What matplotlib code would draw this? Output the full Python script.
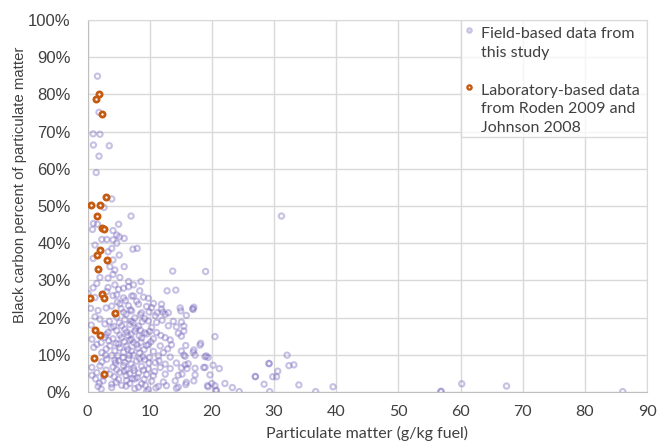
import matplotlib
matplotlib.use("Agg")
import matplotlib.pyplot as plt
from matplotlib.patches import Rectangle

# Field-based data (particulate matter g/kg fuel, black carbon %)
field_pm = [
    1.6, 1.85, 0.9, 2.0, 0.95, 3.5, 1.85, 1.4, 3.9, 31.2,
    2.65, 7.0, 0.95, 1.6, 5.0, 0.8, 4.1, 4.7, 2.3, 3.1, 4.1, 5.1, 5.9, 4.7, 1.2,
    3.9, 7.3, 8.0, 3.3, 5.1, 0.9, 4.1, 5.9, 3.6, 4.4, 13.7, 4.1, 2.0, 5.2, 3.3,
    6.6, 8.6, 1.5, 4.4, 7.4, 0.9, 5.8, 8.4, 12.8, 14.2, 0.1, 3.1, 7.1, 4.7, 9.8, 19.0,
    3.3, 5.0, 6.6,
    1.2, 4.1, 5.8, 7.4, 9.0,
    3.9, 5.2, 6.6, 8.2, 9.5,
    1.7, 5.8, 7.1, 8.7,
    2.0, 4.7, 6.0, 7.6, 9.2,
    2.8, 5.5, 6.8, 8.2,
    3.3, 4.7, 6.3, 7.6, 9.2,
    0.7, 2.8, 4.1, 5.5, 7.1, 8.7,
    1.5, 3.6, 5.0, 6.3, 7.9, 9.5,
    2.3, 4.4, 5.8, 7.1, 8.4,
    3.1, 5.0, 6.6, 7.9, 9.2,
    0.7, 2.0, 4.1, 5.8, 7.4, 8.7,
    1.5, 3.6, 5.2, 6.8, 8.2, 9.5,
    2.5, 5.0, 6.3, 7.6,
    3.9, 5.5, 8.7,
    5.4, 6.2, 7.0, 7.8, 6.5, 5.9, 7.4, 8.1, 6.7, 4.9, 8.9, 6.1, 7.9, 4.4, 3.8,
    3.4, 4.5, 6.3, 8.0, 2.9,
    0.5, 1.2, 0.6, 1.0, 0.7, 1.3, 2.2,
    10.6, 11.9, 12.1, 13.0,
    10.3, 11.9, 14.9, 17.0, 10.9, 12.5, 9.8, 11.1, 13.8, 15.1, 10.3, 13.0, 14.3,
    9.5, 11.1, 14.6, 10.6, 12.5, 9.8, 11.7, 13.5, 18.1, 10.6, 12.2, 15.1, 17.0,
    10.0, 11.4, 13.3, 15.7, 18.9, 19.4, 10.9, 12.5, 14.3, 16.2,
    9.8, 11.7, 13.3, 15.1, 17.3, 10.6, 12.5, 14.6, 10.3, 12.2, 14.1, 15.9,
    11.4, 14.6, 19.4, 9.5,
    16.9, 17.1, 15.9, 15.0, 15.5, 15.5, 15.1, 20.5, 18.2, 15.8, 17.1, 17.3, 15.5,
    19.1, 15.7, 18.7, 18.9, 20.2, 21.2, 16.0, 17.3, 19.7, 15.2, 15.8, 17.1, 19.3,
    20.0, 20.5, 20.7, 22.1, 23.3, 24.4, 27.0, 27.0, 28.4, 29.2, 29.2, 29.8, 30.4,
    30.6, 29.3, 32.1, 32.4, 33.2, 34.0, 36.7, 39.5,
    56.8, 56.9, 60.2, 67.4, 86.1,
    1.7, 3.9, 6.2, 7.6, 9.3, 11.0, 12.7, 14.3, 9.8, 20.7,
    3.0, 4.8, 6.9, 8.5, 9.9, 3.5, 5.1, 7.3, 8.8, 4.2, 6.0, 8.5, 10.0, 3.0,
    5.2, 7.0, 8.3, 2.2, 4.6, 6.8, 8.6, 10.2, 3.0, 5.2, 6.5, 9.1, 3.9, 5.7,
    7.4, 8.4, 2.3, 4.4, 6.0, 7.0, 9.9, 3.0, 4.7, 5.9, 7.5, 9.0, 2.6, 4.3,
    6.2, 7.2, 9.1, 1.9, 4.6, 6.8, 8.2, 10.8, 11.5, 12.9, 11.8, 13.3, 12.0, 11.2,
]
field_bc = [
    84.9, 75.2, 69.4, 69.3, 66.4, 66.2, 63.4, 59.0, 51.9, 47.3,
    49.6, 47.3, 45.3, 45.1, 45.1, 43.7, 43.4, 42.2, 41.0, 41.0, 40.9, 41.7, 41.3, 40.0, 39.5,
    38.6, 38.4, 38.6, 37.7, 36.8, 35.9, 35.5, 33.7, 33.7, 32.8, 32.5, 31.6, 30.8, 30.8, 30.6,
    29.7, 29.7, 29.2, 28.8, 28.8, 28.0, 27.9, 27.2, 27.2, 27.4, 26.5, 27.0, 25.8, 26.1, 25.2, 32.4,
    28.1, 27.6, 28.3,
    25.4, 25.9, 25.3, 25.8, 25.5,
    23.1, 23.7, 23.2, 23.6, 23.0,
    21.9, 21.4, 21.8, 21.3,
    19.6, 20.1, 19.5, 19.9, 19.7,
    18.3, 17.8, 18.2, 17.7,
    16.0, 16.5, 16.1, 16.4, 15.9,
    14.2, 14.7, 14.3, 14.6, 14.1, 14.5,
    12.8, 12.4, 12.9, 12.3, 12.7, 12.5,
    10.6, 11.1, 10.7, 11.0, 10.5,
    8.8, 8.4, 8.9, 8.3, 8.7,
    6.6, 7.0, 6.7, 7.1, 6.5, 6.9,
    5.2, 4.8, 5.3, 4.9, 5.1, 4.7,
    3.0, 3.4, 3.1, 3.5,
    2.1, 1.8, 2.2,
    22.4, 20.9, 19.0, 17.1, 15.2, 13.5, 13.3, 11.8, 9.8, 9.7, 9.5, 24.6, 24.4, 21.0, 17.3,
    13.8, 7.8, 6.1, 3.9, 9.9,
    22.5, 20.2, 18.0, 12.0, 4.5, 3.5, 0.8,
    23.8, 23.6, 21.5, 21.3,
    22.7, 22.3, 22.6, 22.2, 20.5, 20.9, 19.1, 18.7, 19.0, 18.8, 17.4, 17.8, 17.5,
    15.6, 16.0, 15.8, 14.3, 14.6, 12.8, 12.4, 12.7, 12.6, 10.9, 10.6, 11.0, 10.7,
    9.3, 9.7, 9.4, 9.6, 9.5, 9.3, 7.9, 7.5, 7.8, 7.6,
    6.2, 6.6, 6.3, 6.5, 6.4, 4.4, 4.8, 4.5, 2.9, 2.7, 3.0, 2.6,
    1.5, 1.3, 1.4, 0.1,
    22.4, 22.8, 20.6, 21.8, 17.7, 16.4, 15.0, 14.9, 13.1, 12.5, 11.3, 9.9, 9.9,
    9.7, 7.3, 6.6, 6.6, 7.2, 6.3, 6.3, 4.6, 4.6, 4.8, 2.0, 3.0, 1.7,
    2.3, 1.7, 0.5, 2.3, 1.2, 0.1, 4.1, 4.2, 2.1, 7.7, 7.6, 4.1, 4.1,
    5.6, 0.1, 9.9, 7.1, 7.3, 1.9, 0.1, 1.4,
    0.1, 0.2, 2.2, 1.6, 0.1,
    1.5, 1.2, 1.6, 0.9, 1.8, 1.1, 1.7, 1.0, 0.6, 0.3,
    22.6, 24.2, 22.1, 20.8, 21.5, 19.0, 18.6, 18.7, 18.9, 17.6, 16.9, 16.6, 16.3, 15.4,
    15.3, 15.6, 15.1, 13.3, 13.1, 13.9, 13.4, 13.5, 11.6, 11.9, 11.5, 11.4, 9.8, 9.3,
    9.9, 8.9, 8.1, 8.5, 7.9, 7.5, 7.8, 5.9, 6.0, 5.6, 5.8, 5.9, 4.3, 4.1,
    4.4, 3.6, 3.4, 2.4, 2.6, 2.3, 1.3, 5.5, 8.4, 11.6, 15.2, 14.0, 19.3, 21.3,
]

# Laboratory-based data (Roden 2009 and Johnson 2008)
lab_pm = [1.8, 1.4, 2.3, 2.9, 0.6, 1.95, 1.6, 2.4, 2.6, 2.0, 1.6, 3.1, 1.75,
          2.4, 0.4, 2.65, 4.4, 1.2, 2.0, 1.05, 2.7]
lab_bc = [80.1, 78.8, 74.7, 52.4, 50.3, 50.3, 47.2, 44.0, 43.7, 38.2, 36.8, 35.6, 33.0,
          26.3, 25.3, 25.2, 21.3, 16.7, 15.2, 9.1, 4.8]

x_ticks = list(range(0, 91, 10))
y_ticks = list(range(0, 101, 10))
legend_labels = ["Field-based data from\nthis study",
                 "Laboratory-based data\nfrom Roden 2009 and\nJohnson 2008"]

field_color = "#7b6bbf"
lab_color = "#c55a11"
grid_color = "#d9d9d9"
text_color = "#404040"

fig = plt.figure(figsize=(6.59, 4.41), dpi=100)
ax = fig.add_axes([0.1328, 0.1111, 0.849, 0.8435])

ax.scatter(field_pm, field_bc, s=14.5, facecolors="none", edgecolors=field_color,
           linewidths=1.5, alpha=0.42, zorder=3)
ax.scatter(lab_pm, lab_bc, s=14, facecolors="white", edgecolors=lab_color,
           linewidths=2.0, zorder=4)

# axes and grid
ax.set_xlim(0, 90)
ax.set_ylim(0, 100)
ax.set_xticks(x_ticks)
ax.set_yticks(y_ticks)
ax.set_yticklabels([f"{v}%" for v in y_ticks], fontsize=12, family="Liberation Sans", color=text_color)
ax.set_xticklabels([str(v) for v in x_ticks], fontsize=11.5, family="Lato", color=text_color)
ax.tick_params(axis="both", length=0)
ax.tick_params(axis="y", pad=12)
ax.tick_params(axis="x", pad=9)
ax.grid(True, color=grid_color, linewidth=1.0)
ax.set_axisbelow(True)
for side in ["top", "right"]:
    ax.spines[side].set_color(grid_color)
for side in ["left", "bottom"]:
    ax.spines[side].set_color("#bfbfbf")

ax.set_ylabel("Black carbon percent of particulate matter", fontsize=10.7,
              family="Liberation Sans", color=text_color)
ax.yaxis.label.set_va("center")
ax.yaxis.set_label_coords(-0.121, 0.558)
ax.set_xlabel("Particulate matter (g/kg fuel)", fontsize=11.5, family="Lato", color=text_color)
ax.xaxis.label.set_va("center")
ax.xaxis.set_label_coords(0.5, -0.112)

# legend box drawn by hand so the markers sit on the first text line
ax.add_patch(Rectangle((0.6676, 0.6855), 0.3324, 0.3145, transform=ax.transAxes,
                       facecolor="white", alpha=0.75, edgecolor="none", zorder=5))
ax.add_patch(Rectangle((0.6676, 0.6855), 0.3324, 0.3145, transform=ax.transAxes,
                       facecolor="none", edgecolor=grid_color, linewidth=1.0, zorder=5))
ax.scatter([0.682], [0.973], s=10, facecolors="#e4e0f2", edgecolors="#c9c1e4", linewidths=1.5,
           transform=ax.transAxes, clip_on=False, zorder=6)
ax.scatter([0.682], [0.8207], s=9, facecolors="white", edgecolors=lab_color, linewidths=1.7,
           transform=ax.transAxes, clip_on=False, zorder=6)
# va="baseline" on multi-line text anchors the last line
ax.text(0.703, 0.9005, legend_labels[0], transform=ax.transAxes, fontsize=11.5, family="Lato",
        color=text_color, va="baseline", ha="left", linespacing=1.43, zorder=7)
ax.text(0.703, 0.699, legend_labels[1], transform=ax.transAxes, fontsize=11.5, family="Lato",
        color=text_color, va="baseline", ha="left", linespacing=1.43, zorder=7)

fig.savefig("out.png", dpi=100)
